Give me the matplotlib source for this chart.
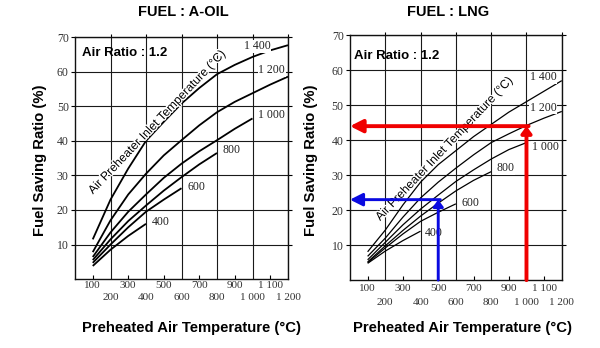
"""Fuel saving ratio of air preheaters, A-oil and LNG firing."""

import matplotlib

matplotlib.use("Agg")

import matplotlib.pyplot as plt
import matplotlib.patheffects as pe

plt.rcParams["font.family"] = ["Liberation Sans", "DejaVu Sans"]

# preheated air temperature (deg C) at which the curves are read
PREHEAT = [100, 200, 300, 400, 500, 600, 700, 800, 900, 1000, 1100, 1200]

CURVE_NAMES = ["400", "600", "800", "1 000", "1 200", "1 400"]

# fuel saving ratio (%) per air preheater inlet temperature, A-oil
OIL_400 = [3.8, 8.5, 12.5, 16.0]
OIL_600 = [4.7, 10.0, 15.0, 19.5, 23.0, 26.3]
OIL_800 = [5.5, 11.5, 16.8, 21.3, 25.6, 29.5, 33.2, 36.5]
OIL_1000 = [6.4, 13.5, 19.5, 24.5, 29.3, 33.4, 37.0, 40.2, 43.5, 46.5]
OIL_1200 = [7.8, 17.0, 24.5, 30.5, 35.8, 40.2, 44.5, 48.3, 51.3, 53.8, 56.3, 58.6]
OIL_1400 = [11.5, 23.0, 32.0, 40.0, 45.5, 50.8, 55.3, 59.3, 62.0, 64.3, 66.2, 67.7]

# same for LNG
LNG_400 = [4.8, 8.3, 11.3, 14.0]
LNG_600 = [5.0, 9.2, 13.2, 16.8, 19.4, 21.8]
LNG_800 = [5.2, 9.8, 14.2, 18.3, 22.0, 25.5, 28.5, 31.0]
LNG_1000 = [5.8, 10.8, 15.8, 20.3, 24.3, 28.2, 31.5, 34.6, 37.3, 39.3]
LNG_1200 = [6.8, 12.0, 18.0, 23.5, 28.0, 32.0, 35.8, 39.3, 41.8, 44.2, 46.3, 48.2]
LNG_1400 = [8.1, 14.3, 21.5, 28.0, 33.0, 37.0, 41.0, 44.5, 48.0, 51.0, 54.0, 57.0]

X_ODD = [100, 300, 500, 700, 900, 1100]
X_ODD_LABELS = ["100", "300", "500", "700", "900", "1 100"]
X_EVEN = [200, 400, 600, 800, 1000, 1200]
X_EVEN_LABELS = ["200", "400", "600", "800", "1 000", "1 200"]
Y_TICKS = [10, 20, 30, 40, 50, 60, 70]

# worked examples on the LNG chart: (preheated air temp, saving %)
EXAMPLE_RED = (1000, 44.0)
EXAMPLE_BLUE = (500, 23.0)

SERIF = ["Liberation Serif", "DejaVu Serif"]
INLET_TEXT = "Air Preheater Inlet Temperature (°C)"
TICK_COLOR = "#333333"


def _panel(ax, curves, label_pos, lw, inlet_xy, ratio_xy, lower_pads, ylab_x):
    for values, name, (lx, ly) in zip(curves, CURVE_NAMES, label_pos):
        ax.plot(PREHEAT[: len(values)], values, color="black", lw=lw,
                solid_capstyle="butt", zorder=3)
        ax.text(lx, ly, name, ha="left", va="center", fontsize=8.5,
                family=SERIF, color="#222222", zorder=4,
                bbox=dict(fc="white", ec="none", pad=0.4))

    ax.set_xlim(0, 1200)
    ax.set_ylim(0, 70)

    ax.set_xticks(X_EVEN)
    ax.set_xticklabels(X_EVEN_LABELS)
    ax.set_xticks(X_ODD, minor=True)
    ax.set_xticklabels(X_ODD_LABELS, minor=True)
    ax.set_yticks(Y_TICKS)
    ax.grid(True, which="major", color="#1a1a1a", lw=0.8)
    ax.grid(False, which="minor")

    ax.tick_params(axis="x", which="major", bottom=False, top=True,
                   direction="out", length=2, pad=lower_pads[1],
                   labelsize=8, labelcolor=TICK_COLOR)
    ax.tick_params(axis="x", which="minor", bottom=True, direction="in",
                   length=3, width=0.8, pad=lower_pads[0],
                   labelsize=8, labelcolor=TICK_COLOR)
    ax.tick_params(axis="y", left=True, right=True, direction="out",
                   length=3, width=0.8, pad=1.5,
                   labelsize=8.5, labelcolor=TICK_COLOR)
    for lab in ax.get_xticklabels(which="both") + ax.get_yticklabels():
        lab.set_family(SERIF)

    for sp in ax.spines.values():
        sp.set_linewidth(1.0)
        sp.set_color("#111111")

    ax.text(*ratio_xy, "Air Ratio : 1.2", fontsize=9.5, fontweight="bold",
            ha="left", va="center", zorder=5)
    ax.text(*inlet_xy, INLET_TEXT, fontsize=8.7, rotation=46.5,
            rotation_mode="anchor", ha="center", va="center", zorder=5,
            path_effects=[pe.withStroke(linewidth=2, foreground="white")])

    ax.set_xlabel("Preheated Air Temperature (°C)", fontsize=10.7, fontweight="bold")
    ax.set_ylabel("Fuel Saving Ratio (%)", fontsize=10.7, fontweight="bold")
    ax.xaxis.set_label_coords(0.545, -0.172)
    ax.yaxis.set_label_coords(ylab_x, 0.49)


def _example_arrow(ax, point, color, lw):
    x, y = point
    head = "-|>,head_length=0.75,head_width=0.38"
    ax.annotate("", xy=(x, y), xytext=(x, 0), zorder=6,
                arrowprops=dict(arrowstyle="-|>,head_length=0.4,head_width=0.3",
                                color=color, lw=lw, shrinkA=0, shrinkB=0))
    ax.annotate("", xy=(0, y), xytext=(x + 12, y), zorder=6,
                arrowprops=dict(arrowstyle=head, color=color, lw=lw,
                                shrinkA=0, shrinkB=0))


fig = plt.figure(figsize=(6, 3.48), dpi=100)

ax_oil = fig.add_axes([0.125, 0.198, 0.355, 0.695])
_panel(ax_oil, [OIL_400, OIL_600, OIL_800, OIL_1000, OIL_1200, OIL_1400],
       [(432, 16.5), (632, 26.7), (832, 37.3), (1029, 47.4), (1032, 60.5), (952, 67.4)],
       lw=1.3, inlet_xy=(466, 45.5), ratio_xy=(40, 65.4),
       lower_pads=(1.5, 8.0), ylab_x=-0.131)

ax_lng = fig.add_axes([0.5833, 0.195, 0.353, 0.704])
_panel(ax_lng, [LNG_400, LNG_600, LNG_800, LNG_1000, LNG_1200, LNG_1400],
       [(425, 13.6), (632, 22.1), (832, 31.9), (1029, 37.9), (1019, 49.3), (1019, 57.9)],
       lw=0.9, inlet_xy=(538, 37.6), ratio_xy=(25, 64.0),
       lower_pads=(3.0, 11.0), ylab_x=-0.151)
ax_lng.xaxis.set_label_coords(0.533, -0.165)
_example_arrow(ax_lng, EXAMPLE_RED, "#f00000", 2.8)
_example_arrow(ax_lng, EXAMPLE_BLUE, "#0a0ae0", 2.1)

fig.text(183 / 600, 1 - 12 / 348, "FUEL : A-OIL", ha="center", va="center",
         fontsize=10.5, fontweight="bold")
fig.text(448 / 600, 1 - 12 / 348, "FUEL : LNG", ha="center", va="center",
         fontsize=10.5, fontweight="bold")

fig.savefig("out.png", dpi=100)
